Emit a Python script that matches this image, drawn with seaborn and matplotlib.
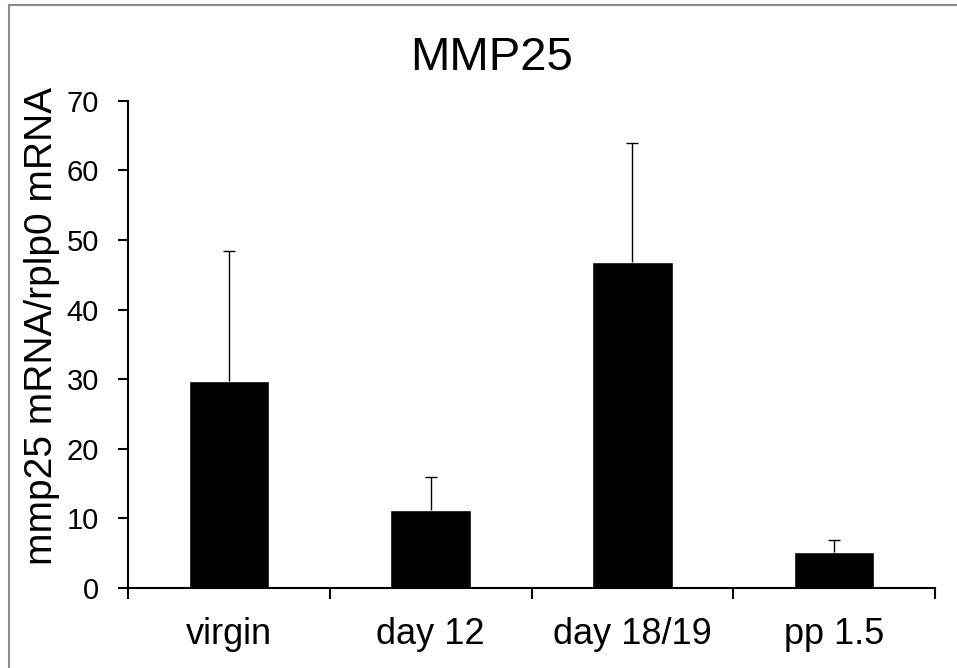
import numpy as np
import pandas as pd
import matplotlib
matplotlib.use("Agg")
import matplotlib.pyplot as plt
import seaborn as sns
from matplotlib.patches import Rectangle
from matplotlib.ticker import FixedLocator

# Data
groups = ["virgin", "day 12", "day 18/19", "pp 1.5"]
means = [29.7, 11.2, 46.8, 5.2]
errors = [18.7, 4.7, 17.1, 1.7]

df = pd.DataFrame({"group": groups, "value": means})

sns.set_theme(style="ticks")
plt.rcParams["font.family"] = ["Liberation Sans", "DejaVu Sans"]
plt.rcParams["text.color"] = "black"

fig = plt.figure(figsize=(9.57, 6.68), dpi=100)
ax = fig.add_axes([0.1338, 0.1198, 0.977 - 0.1338, 0.8493 - 0.1198])

sns.barplot(data=df, x="group", y="value", color="black", width=0.4,
            errorbar=None, saturation=1, ax=ax)
# upper error only, cap on top only
eb = ax.errorbar(range(len(groups)), means, yerr=[np.zeros(len(errors)), errors],
                 fmt="none", ecolor="black", elinewidth=1.0, capsize=4.3,
                 capthick=1.0)
eb[1][0].remove()

# axes look
ax.set_xlim(-0.5, len(groups) - 0.5)
ax.set_ylim(0, 70)
ax.set_yticks(range(0, 71, 10))
ax.set_xlabel("")
ax.set_ylabel("")
sns.despine(ax=ax)
for s in ["left", "bottom"]:
    ax.spines[s].set_linewidth(1.5)
    ax.spines[s].set_color("black")

ax.tick_params(axis="y", which="major", length=7, width=1.5, direction="out",
               labelsize=21, pad=14, colors="black")
ax.tick_params(axis="x", which="major", length=0, labelsize=26, pad=21,
               colors="black")
ax.xaxis.set_minor_locator(FixedLocator(np.arange(-0.5, len(groups), 1.0)))
ax.tick_params(axis="x", which="minor", length=8, width=1.5, direction="out",
               color="black")

fig.text(0.514, 0.895, "MMP25", ha="center", va="baseline", fontsize=34,
         color="black")
fig.text(0.044, 0.512, "mmp25 mRNA/rplp0 mRNA", ha="center", va="center",
         rotation=90, fontsize=28, color="black")

# chart border like the original export
fig.patches.append(Rectangle((9 / 957, -0.1), 1.2, (668 - 5) / 668 + 0.1,
                             transform=fig.transFigure, fill=False,
                             edgecolor="#8c8c8c", linewidth=1.5))

fig.savefig("out.png", dpi=100)
